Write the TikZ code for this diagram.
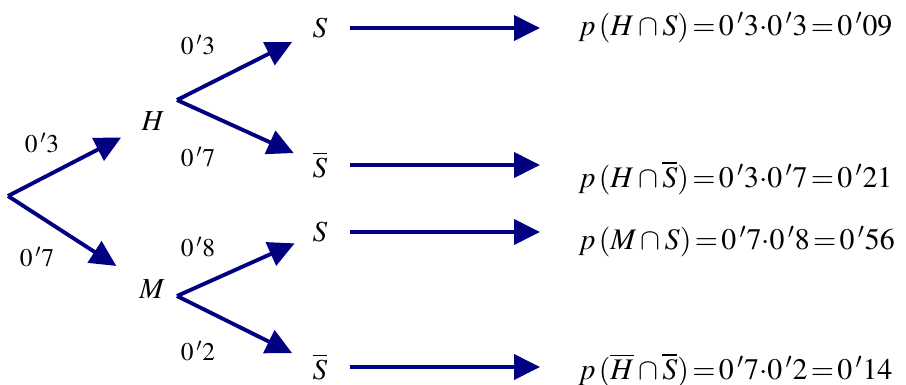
\documentclass[tikz,border=0pt]{standalone}
\usepackage{mathptmx}
\usepackage{tikz}
\usetikzlibrary{arrows.meta}
\definecolor{treeblue}{RGB}{0,0,128}
\newcommand{\dec}[2]{#1\,{}'#2}
\newcommand{\tdot}{\mathord{\cdot}}
\tikzset{
  probar/.style   = {-{Triangle[length=5.2mm,width=5mm]}, treeblue,
                     line width=2.2pt, shorten >=3.2mm},
  leafar/.style   = {probar, shorten <=3.2mm, shorten >=7.6mm},
  event/.style    = {font=\fontsize{16.5}{19}\selectfont},
  problabel/.style= {font=\fontsize{14.5}{18}\selectfont},
  result/.style   = {anchor=west, inner sep=0pt, font=\fontsize{17}{20}\selectfont}
}

\begin{document}
\begin{tikzpicture}[x=0.02cm,y=-0.02cm]
  \useasboundingbox (0,0) rectangle (906,385);
  % first stage
  \coordinate (root) at (8,196);
  \node[event] (H) at (153,121) {$H$};
  \node[event] (M) at (152,289) {$M$};
  \draw[probar] (root) -- (H);
  \draw[probar, shorten >=4mm] (root) -- (M);
  \node[problabel] (pH) at (42,143) {$\dec03$};
  \node[problabel] (pM) at (37,257) {$\dec07$};
  % second stage
  \coordinate (Hj) at (177,100);
  \coordinate (Mj) at (177,296);
  \node[event] (HS)  at (320,28)  {$S$};
  \node[event] (HnS) at (320,165) {$\overline{S}$};
  \node[event] (MS)  at (320,232) {$S$};
  \node[event] (MnS) at (320,367) {$\overline{S}$};
  \draw[probar] (Hj) -- (HS);
  \draw[probar, shorten >=2.8mm] (Hj) -- (HnS);
  \draw[probar, shorten >=2.6mm] (Mj) -- (MS);
  \draw[probar] (Mj) -- (MnS);
  \node[problabel] (pHS)  at (198,45)  {$\dec03$};
  \node[problabel] (pHnS) at (198,157) {$\dec07$};
  \node[problabel] (pMS)  at (198,247) {$\dec08$};
  \node[problabel] (pMnS) at (198,351) {$\dec02$};
  % products
  \node[result] (r1) at (578,28)  {$p\,(H\cap S)\!=\!\dec03\tdot\dec03\!=\!\dec0{09}$};
  \node[result] (r2) at (578,178) {$p\,(H\cap\overline{S})\!=\!\dec03\tdot\dec07\!=\!\dec0{21}$};
  \node[result] (r3) at (578,242) {$p\,(M\cap S)\!=\!\dec07\tdot\dec08\!=\!\dec0{56}$};
  \node[result] (r4) at (578,370) {$p\,(\overline{H}\cap\overline{S})\!=\!\dec07\tdot\dec02\!=\!\dec0{14}$};
  \draw[leafar] (HS.east)  -- (HS.east -| r1.west);
  \draw[leafar] (HnS.east) -- (HnS.east -| r2.west);
  \draw[leafar] (MS.east)  -- (MS.east -| r3.west);
  \draw[leafar] (MnS.east) -- (MnS.east -| r4.west);
\end{tikzpicture}
\end{document}
